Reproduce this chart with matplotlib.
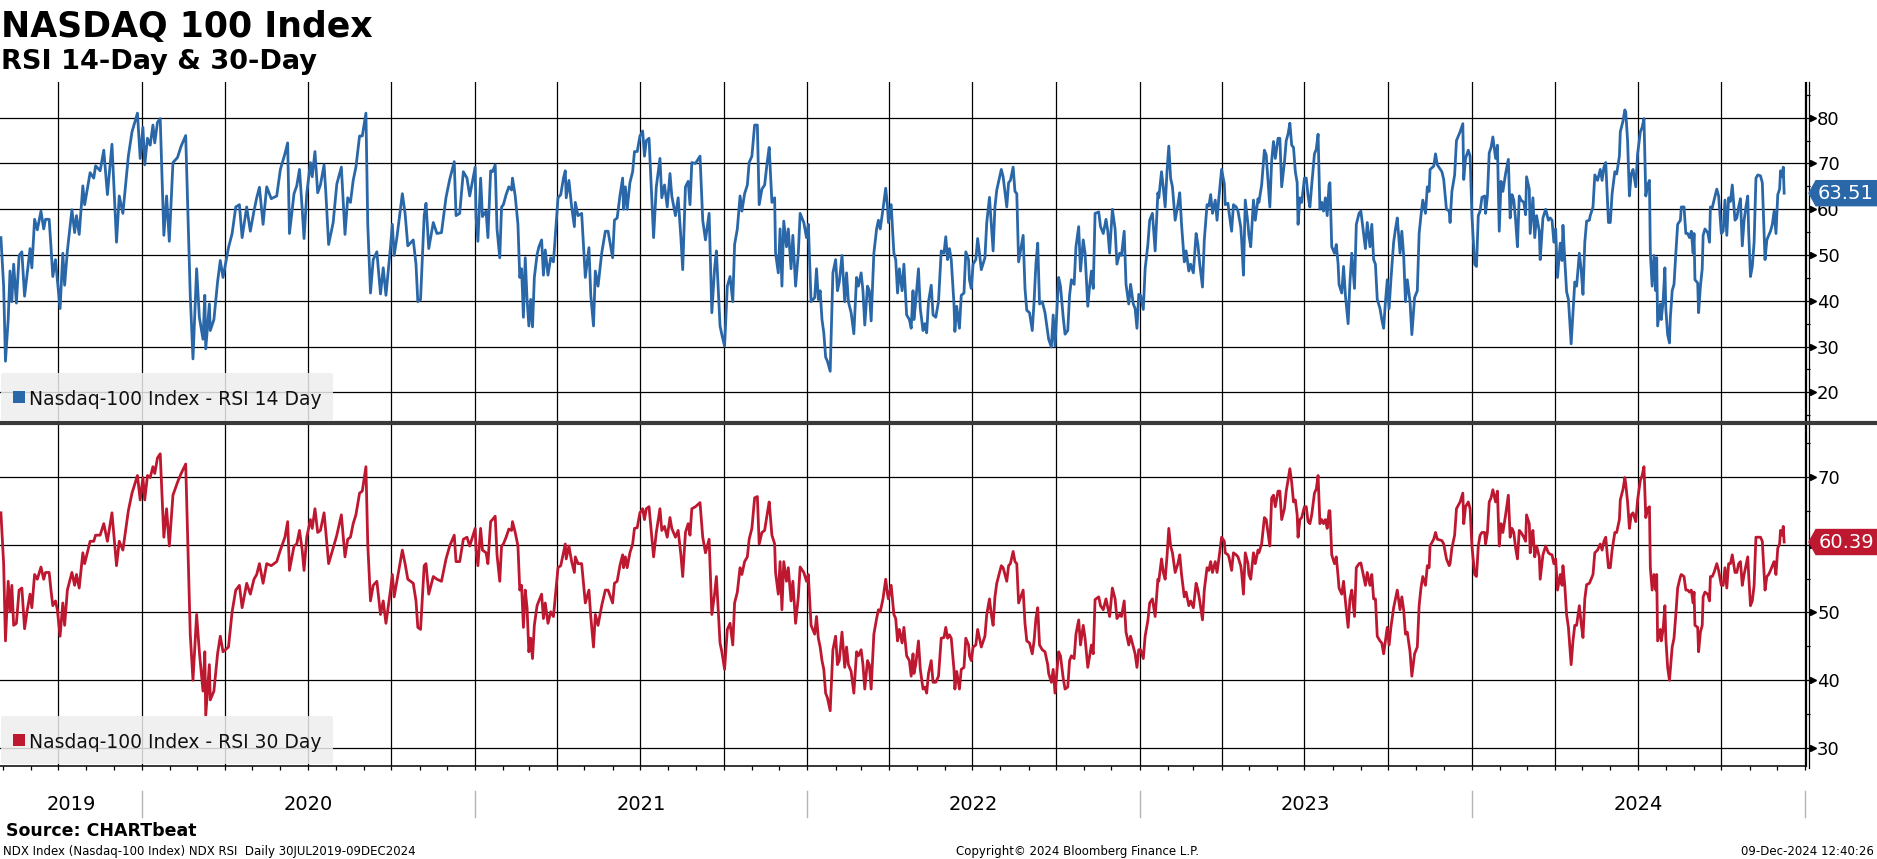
import numpy as np
import pandas as pd
import matplotlib

matplotlib.use("Agg")
import matplotlib.pyplot as plt
import matplotlib.dates as mdates
from matplotlib.lines import Line2D
from matplotlib.patches import FancyBboxPatch, Polygon, Rectangle
from matplotlib.ticker import FixedLocator
from matplotlib.transforms import blended_transform_factory

plt.rcParams["font.family"] = ["DejaVu Sans"]

# readings are calendar days after the first observation (30 Jul 2019)
START = "2019-07-30"
day_offset = [
    0, 3, 5, 8, 10, 12, 14, 17, 20, 23,
    26, 29, 32, 34, 37, 40, 44, 47, 49, 53,
    55, 57, 60, 62, 65, 68, 70, 73, 78, 81,
    83, 86, 90, 92, 98, 102, 104, 109, 113, 117,
    122, 127, 130, 134, 140, 144, 150, 153, 156, 158,
    161, 164, 167, 169, 172, 175, 179, 182, 185, 189,
    194, 198, 203, 208, 211, 215, 218, 222, 224, 225,
    229, 230, 234, 238, 241, 244, 250, 254, 258, 262,
    265, 270, 274, 278, 281, 284, 288, 292, 297, 303,
    307, 312, 315, 317, 322, 325, 328, 331, 333, 336,
    340, 342, 345, 348, 351, 355, 357, 360, 365, 369,
    374, 378, 381, 384, 387, 390, 394, 397, 401, 403,
    406, 409, 413, 417, 420, 423, 428, 430, 432, 435,
    441, 444, 447, 453, 456, 458, 461, 465, 467, 470,
    475, 479, 484, 489, 493, 498, 500, 504, 508, 512,
    515, 521,
    522, 524, 527, 529, 533, 535, 538, 540, 543, 545,
    548, 550, 552, 555, 558, 561, 562, 565, 568, 570,
    572, 574, 576, 578, 580, 582, 584, 586, 589, 591,
    594, 596, 598, 601, 604, 607, 612, 615, 618, 620,
    621, 624, 627, 630, 631, 634, 638, 642, 646, 648,
    651, 653, 656, 660, 664, 667, 672, 674, 677, 680,
    683, 684, 686, 688, 691, 694, 696, 699, 702, 705,
    707, 709, 712, 717, 720, 724, 726, 729, 732, 735,
    737, 741, 744, 747, 749, 752, 755, 757, 759, 763,
    768, 771, 774, 778, 781, 784, 786, 790, 792, 795,
    798, 801, 804, 806, 809, 812, 814, 817, 820, 822,
    825, 828, 831, 833, 836, 839, 842, 844, 847, 850,
    851, 854, 856, 858, 860, 863, 865, 868, 870, 873,
    876, 878, 882, 885, 887, 890, 894, 896, 898, 900,
    902, 904, 906, 908, 911, 914, 917, 919, 921, 924,
    927, 929, 931, 934, 937, 940, 942, 945, 947, 949,
    952, 954, 956, 959, 962, 964, 966, 969, 972, 974,
    975, 978, 981, 983, 985, 987, 990, 992, 995, 998,
    1000, 1002, 1003, 1005, 1008, 1010, 1013, 1015, 1017, 1019,
    1022, 1024, 1027, 1030, 1033,
    1036, 1038, 1040, 1042, 1044, 1047, 1048, 1050, 1053, 1055,
    1058, 1060, 1063, 1064, 1066, 1068, 1071, 1073, 1075, 1077,
    1081, 1083, 1086, 1088, 1090, 1092, 1094, 1099, 1101, 1105,
    1107, 1109, 1112, 1114, 1116, 1118, 1123, 1125, 1127, 1130,
    1133, 1135, 1137, 1139, 1141, 1144, 1147, 1150, 1151, 1154,
    1156, 1158, 1162, 1164, 1167, 1169, 1172, 1174, 1176, 1179,
    1181, 1184, 1186, 1189, 1191, 1194, 1196, 1198, 1200, 1202,
    1206, 1208, 1211, 1214, 1216, 1218, 1221, 1224, 1226, 1229,
    1231, 1234, 1236, 1239, 1241, 1244, 1246, 1248, 1250, 1252,
    1255, 1257, 1260, 1262, 1265, 1268, 1271, 1272, 1275, 1277,
    1279, 1281, 1283, 1285, 1287, 1290, 1293, 1295, 1297, 1300,
    1302, 1305, 1307, 1310, 1313, 1315, 1317, 1320, 1322, 1325,
    1327, 1329, 1331, 1334, 1336, 1338, 1341, 1344, 1345, 1348,
    1349, 1352, 1354, 1357, 1359, 1362, 1363, 1365, 1367, 1370,
    1371, 1373, 1376, 1378, 1381, 1382, 1385, 1388, 1390, 1394,
    1396, 1398, 1400, 1403, 1405, 1407, 1410, 1412, 1414, 1416,
    1418, 1420, 1422, 1424, 1425, 1427, 1429, 1432, 1434, 1436,
    1438, 1440, 1443, 1445, 1447, 1449, 1451, 1453, 1455, 1457,
    1459, 1460, 1462, 1465, 1467, 1469, 1470, 1473, 1475, 1477,
    1480, 1482, 1484, 1487, 1489, 1492, 1494, 1499, 1501, 1504,
    1506, 1508, 1510, 1512, 1515, 1517, 1519, 1521, 1523, 1525,
    1527, 1530, 1532, 1534, 1537, 1539, 1541, 1543, 1545, 1548,
    1550, 1553,
    1556, 1558, 1560, 1562, 1565, 1567, 1569, 1570, 1574, 1576,
    1578, 1583, 1585, 1588, 1591, 1592, 1594, 1597, 1599, 1603,
    1606, 1607, 1609, 1612, 1614, 1616, 1619, 1621, 1623, 1625,
    1627, 1630, 1631, 1633, 1635, 1637, 1639, 1642, 1644, 1646,
    1648, 1650, 1653, 1656, 1658, 1660, 1662, 1664, 1666, 1668,
    1670, 1673, 1675, 1676, 1679, 1680, 1682, 1683, 1685, 1687,
    1690, 1691, 1694, 1697, 1700, 1702, 1704, 1706, 1708, 1710,
    1713, 1715, 1716, 1718, 1720, 1722, 1725, 1727, 1729, 1731,
    1734, 1736, 1738, 1740, 1742, 1745, 1746, 1749, 1751, 1754,
    1757, 1759, 1761, 1763, 1766, 1768, 1770, 1773, 1775, 1778,
    1779, 1782, 1784, 1785, 1787, 1789, 1791, 1793, 1796, 1798,
    1801, 1803, 1805, 1807, 1809, 1811, 1812, 1814, 1816, 1818,
    1819, 1820, 1823, 1824, 1826, 1828, 1829, 1831, 1833, 1834,
    1836, 1838, 1840, 1842, 1845, 1846, 1849, 1851, 1853, 1855,
    1857, 1859, 1860, 1861, 1864, 1865, 1867, 1869, 1870, 1872,
    1875, 1877, 1878, 1880, 1882, 1885, 1887, 1890, 1892, 1894,
    1896, 1898, 1900, 1902, 1905, 1907, 1909, 1911, 1913, 1915,
    1917, 1919, 1920, 1922, 1924, 1926, 1928, 1930, 1933, 1935,
    1938, 1940, 1942, 1944, 1946, 1948, 1950, 1952, 1954, 1955,
    1957, 1958, 1959,
]

rsi_14 = [
    53.8, 43.2, 26.8, 35.9, 46.5, 39.8, 48.0, 39.5, 49.9, 50.7,
    41.0, 46.1, 51.4, 47.2, 57.8, 55.5, 59.6, 55.7, 57.8, 57.8,
    51.8, 45.3, 49.0, 44.6, 38.3, 50.4, 43.4, 50.9, 59.9, 54.9,
    58.6, 54.5, 65.1, 61.0, 68.0, 66.8, 69.5, 68.4, 72.9, 63.2,
    74.2, 52.8, 62.9, 59.1, 71.6, 76.9, 81.0, 71.1, 77.9, 69.7,
    75.5, 74.0, 78.4, 74.5, 79.0, 79.8, 54.3, 62.9, 53.0, 70.2,
    71.3, 73.8, 76.1, 41.2, 27.3, 47.0, 36.4, 31.6, 41.2, 29.5,
    39.3, 33.5, 35.9, 44.1, 48.8, 45.1, 51.6, 54.7, 60.5, 61.0,
    53.8, 60.5, 55.2, 59.6, 62.5, 64.8, 56.7, 64.9, 62.3, 62.9,
    68.7, 72.1, 74.5, 54.7, 63.4, 65.1, 68.7, 60.0, 53.6, 63.4,
    70.2, 67.1, 72.6, 63.6, 65.3, 69.7, 63.4, 52.3, 57.1, 65.5,
    69.2, 54.5, 62.5, 61.5, 66.3, 69.2, 76.0, 76.0, 81.0, 56.7,
    41.7, 49.0, 50.7, 41.5, 47.2, 41.2, 51.8, 56.7, 49.9, 53.8,
    63.4, 59.1, 52.0, 53.3, 48.0, 39.8, 40.3, 58.6, 61.3, 51.4,
    57.1, 54.7, 54.9, 62.6, 66.5, 70.4, 58.6, 59.1, 68.2, 66.8,
    62.9, 69.2,
    58.1, 53.0, 66.8, 58.4, 59.6, 53.8, 68.4, 68.2, 69.7, 55.7,
    49.4, 60.5, 61.0, 63.2, 64.9, 64.2, 66.8, 62.9, 56.7, 45.1,
    47.0, 36.4, 49.4, 40.3, 34.5, 40.3, 34.3, 45.1, 50.1, 51.8,
    53.3, 45.6, 51.1, 45.6, 49.4, 48.5, 62.5, 63.2, 66.8, 68.4,
    62.5, 66.3, 60.5, 56.2, 61.5, 58.6, 59.1, 45.1, 51.6, 41.2,
    34.5, 46.5, 43.2, 50.4, 55.2, 55.2, 49.4, 57.6, 58.1, 62.9,
    66.8, 60.0, 64.9, 60.0, 65.8, 68.2, 72.6, 72.6, 76.0, 77.1,
    71.6, 75.0, 75.5, 53.8, 64.9, 71.1, 62.5, 65.3, 60.5, 67.8,
    62.9, 58.6, 62.5, 53.8, 46.8, 64.9, 66.1, 61.0, 70.2, 70.0,
    71.6, 57.6, 53.3, 59.1, 37.4, 47.0, 50.9, 34.5, 32.6, 30.1,
    43.2, 45.3, 39.8, 52.3, 55.7, 62.9, 59.6, 63.4, 65.3, 70.2,
    71.6, 78.4, 78.4, 61.0, 64.4, 65.3, 70.6, 73.5, 61.5, 62.5,
    50.4, 46.1, 55.7, 43.2, 57.4, 51.8, 55.7, 47.0, 54.3, 43.2,
    50.4, 59.1, 57.1, 53.8, 56.7, 39.8, 40.7, 47.0, 40.3, 42.2,
    35.9, 33.0, 27.7, 26.8, 24.6, 46.1, 49.0, 42.2, 44.1, 49.9,
    39.8, 46.1, 39.8, 37.4, 32.8, 45.1, 43.2, 46.1, 42.2, 34.7,
    43.2, 42.2, 35.6, 50.4, 55.7, 57.6, 55.7, 60.0, 64.6, 60.5,
    57.1, 61.0, 50.4, 49.0, 41.7, 47.0, 42.2, 48.0, 36.9, 35.9,
    34.0, 42.2, 35.9, 39.8, 47.0, 38.3, 33.5, 35.0, 33.0, 39.8,
    43.4, 36.9, 36.4, 39.8, 50.9,
    50.4, 54.0, 49.0, 51.4, 49.0, 39.3, 33.3, 38.8, 34.0, 41.2,
    41.7, 50.7, 49.0, 44.6, 42.7, 48.0, 49.0, 53.6, 50.4, 46.8,
    49.4, 57.1, 62.6, 56.7, 50.9, 60.5, 64.2, 68.7, 67.1, 60.5,
    65.8, 66.3, 69.2, 63.9, 63.4, 48.5, 54.3, 42.7, 37.9, 37.4,
    33.5, 39.8, 48.0, 52.6, 39.3, 39.8, 37.4, 33.0, 31.6, 29.9,
    36.9, 30.1, 45.1, 43.2, 36.4, 32.7, 33.5, 41.2, 44.6, 43.6,
    51.8, 56.2, 46.5, 53.3, 50.4, 38.8, 43.2, 46.5, 42.7, 59.1,
    59.4, 56.2, 54.7, 57.8, 55.2, 50.4, 60.0, 55.7, 48.0, 50.4,
    49.9, 55.2, 43.6, 39.3, 43.6, 39.3, 38.3, 34.0, 41.4, 41.2,
    38.1, 47.0, 52.3, 57.6, 59.1, 50.9, 63.6, 62.5, 68.2, 64.6,
    60.5, 68.2, 73.8, 66.8, 64.9, 57.6, 61.0, 63.6, 56.7, 48.5,
    50.9, 46.5, 48.0, 46.1, 54.7, 52.3, 48.0, 43.0, 53.3, 61.0,
    60.7, 63.2, 59.1, 62.0, 57.6, 62.5, 68.7, 65.5, 61.0, 61.3,
    59.6, 55.2, 61.0, 60.5, 59.6, 56.2, 53.3, 45.6, 62.0, 56.7,
    54.3, 51.8, 62.0, 57.6, 62.3, 61.5, 65.3, 72.9, 71.9, 60.5,
    70.6, 74.8, 71.1, 75.5, 75.5, 64.9, 70.2, 75.0, 76.4, 78.8,
    74.0, 73.5, 68.2, 65.8, 56.7, 62.5, 61.5, 66.8, 66.8, 62.9,
    60.5, 65.3, 72.1, 73.1, 76.4, 60.0, 61.5, 59.6, 62.5, 58.6,
    65.3, 65.8, 51.8, 50.4, 52.3, 48.0, 43.6, 41.7, 47.5, 41.2,
    35.0, 44.1, 50.4, 42.7, 56.7, 59.1, 59.6, 51.4, 57.1, 51.8,
    56.7, 49.0, 48.0, 40.3, 38.3, 35.9, 34.0, 39.8, 44.6, 38.3,
    44.6, 52.8, 55.7, 58.1, 50.4, 55.2, 49.9, 39.8, 44.6, 39.8,
    32.6, 40.7,
    42.2, 54.7, 58.6, 62.0, 59.1, 64.9, 63.9, 68.7, 69.4, 72.1,
    69.7, 68.2, 66.5, 60.0, 59.6, 57.1, 63.9, 67.5, 75.0, 76.9,
    78.7, 66.5, 71.1, 72.9, 71.6, 58.6, 48.0, 47.5, 58.6, 59.6,
    62.6, 62.9, 59.1, 62.9, 72.3, 73.5, 75.8, 71.1, 74.0, 55.2,
    66.1, 63.9, 67.8, 70.9, 58.1, 63.2, 62.0, 57.6, 51.8, 62.9,
    62.0, 61.5, 58.8, 67.1, 64.4, 54.7, 60.0, 62.5, 53.8, 58.6,
    55.2, 49.0, 58.1, 60.0, 57.6, 58.1, 57.6, 52.8, 55.7, 45.1,
    52.6, 48.8, 56.5, 49.0, 42.0, 40.3, 30.6, 37.4, 44.1, 43.2,
    50.4, 46.8, 41.4, 52.8, 57.4, 57.6, 58.6, 60.5, 67.5, 66.3,
    68.7, 66.3, 69.2, 70.2, 57.1, 57.1, 63.4, 68.2, 67.7, 71.6,
    76.9, 79.3, 81.7, 81.2, 75.0, 62.9, 67.7, 68.7, 64.9, 72.1,
    76.9, 77.9, 79.8, 62.9, 65.3, 66.3, 50.4, 43.2, 49.9, 42.2,
    49.4, 34.5, 39.3, 35.9, 39.8, 47.2, 38.3, 32.6, 30.8, 36.4,
    42.2, 43.6, 50.4, 56.7, 57.6, 60.5, 60.5, 54.7, 54.7, 53.8,
    55.2, 50.4, 54.7, 44.6, 43.9, 37.4, 43.2, 47.0, 54.3, 55.7,
    54.9, 52.8, 60.5, 60.3, 62.0, 64.4, 62.9, 54.7, 55.2, 62.0,
    54.3, 62.5, 61.7, 65.3, 57.6, 58.1, 60.5, 62.3, 52.0, 57.6,
    60.5, 62.9, 55.2, 45.3, 47.5, 52.8, 66.8, 67.5, 67.3, 65.8,
    49.0, 53.3, 54.3, 55.2, 56.7, 59.6, 54.7, 63.2, 64.4, 68.4,
    67.1, 69.2, 63.51,
]

rsi_30 = [
    64.7, 57.2, 45.8, 54.6, 50.1, 54.0, 48.1, 48.4, 53.3, 53.6,
    47.6, 50.4, 52.7, 50.7, 55.6, 54.9, 56.7, 54.9, 55.9, 55.9,
    53.3, 51.0, 51.7, 50.4, 46.5, 51.4, 48.1, 53.3, 55.9, 54.0,
    55.6, 53.6, 58.8, 57.2, 60.5, 60.5, 61.4, 61.4, 63.1, 60.5,
    64.7, 56.9, 60.5, 59.2, 65.0, 67.6, 70.2, 66.6, 69.9, 66.6,
    70.2, 69.9, 71.5, 70.5, 72.8, 73.4, 61.1, 65.3, 59.8, 67.3,
    69.2, 70.5, 71.9, 46.8, 40.0, 49.7, 44.2, 38.4, 44.2, 34.8,
    42.3, 37.1, 38.4, 43.9, 46.5, 44.2, 44.9, 50.1, 53.3, 54.0,
    50.7, 54.3, 52.7, 54.9, 55.6, 57.2, 54.3, 57.2, 56.9, 57.5,
    59.2, 61.1, 63.4, 56.2, 59.8, 60.1, 62.1, 59.2, 56.2, 61.1,
    63.7, 62.4, 65.3, 61.8, 62.1, 64.7, 61.8, 57.2, 59.5, 61.4,
    64.4, 58.2, 60.8, 61.1, 63.1, 64.4, 67.6, 67.9, 71.5, 60.1,
    51.7, 54.0, 54.6, 49.7, 51.7, 48.4, 53.3, 55.6, 52.3, 54.6,
    59.2, 57.2, 54.9, 54.3, 51.7, 47.8, 47.5, 56.9, 57.2, 52.7,
    55.3, 54.9, 54.6, 57.9, 59.8, 61.4, 57.5, 57.5, 60.8, 61.1,
    59.8, 62.4,
    59.2, 56.9, 62.4, 59.2, 58.8, 57.2, 63.4, 63.7, 64.2, 58.5,
    54.6, 59.8, 60.1, 61.1, 62.3, 62.1, 63.4, 61.8, 59.8, 53.3,
    54.0, 47.8, 53.3, 50.7, 44.2, 46.2, 43.2, 48.1, 51.0, 51.7,
    52.7, 49.1, 51.4, 48.4, 50.1, 49.4, 56.6, 56.9, 58.8, 60.1,
    57.9, 59.8, 57.5, 55.9, 58.2, 57.2, 57.2, 51.4, 53.3, 49.4,
    44.9, 49.7, 48.1, 51.0, 53.3, 53.3, 51.4, 54.3, 54.6, 56.9,
    58.5, 56.6, 58.2, 56.6, 58.8, 60.1, 62.4, 62.5, 64.7, 65.3,
    63.7, 65.3, 65.6, 58.2, 61.8, 65.3, 62.1, 62.7, 61.1, 64.0,
    62.4, 61.1, 62.1, 58.5, 55.3, 61.8, 63.1, 61.4, 65.3, 65.6,
    66.2, 61.1, 58.8, 60.8, 49.7, 52.7, 55.3, 45.5, 44.2, 41.6,
    47.5, 48.4, 45.2, 51.4, 53.0, 56.6, 55.6, 57.5, 58.2, 60.8,
    62.4, 66.9, 67.1, 60.1, 61.8, 62.1, 64.7, 66.3, 61.4, 60.1,
    55.9, 52.7, 57.5, 50.4, 57.5, 54.6, 56.6, 51.7, 54.6, 48.4,
    52.3, 56.7, 55.9, 54.6, 55.6, 48.1, 46.8, 49.4, 46.2, 44.9,
    42.9, 41.6, 38.1, 37.4, 35.5, 44.5, 46.5, 42.3, 42.9, 47.1,
    41.9, 44.9, 42.3, 41.3, 38.1, 44.2, 43.6, 44.5, 42.3, 38.7,
    42.9, 42.3, 38.7, 46.8, 49.1, 50.4, 50.1, 52.0, 54.9, 52.7,
    52.0, 54.0, 49.7, 49.1, 45.8, 47.5, 45.5, 47.8, 43.6, 42.9,
    40.6, 43.9, 41.0, 42.3, 45.8, 41.6, 38.7, 39.0, 38.1, 41.0,
    42.9, 39.7, 39.7, 40.6, 46.2,
    46.3, 47.8, 46.2, 46.7, 46.2, 41.6, 38.7, 41.3, 38.7, 41.6,
    41.9, 46.2, 45.2, 43.6, 42.9, 44.9, 45.2, 47.5, 46.2, 44.9,
    46.5, 49.7, 52.0, 49.7, 48.1, 52.3, 54.3, 56.9, 56.6, 54.6,
    56.9, 57.2, 59.0, 57.5, 57.2, 51.4, 53.3, 48.4, 45.8, 45.5,
    43.9, 45.8, 49.1, 50.7, 45.2, 44.5, 44.2, 42.3, 41.0, 39.7,
    41.6, 38.1, 44.2, 43.6, 40.3, 38.7, 39.0, 42.9, 43.6, 43.2,
    46.8, 48.9, 45.2, 48.1, 46.2, 41.9, 43.6, 45.2, 43.9, 51.9,
    52.3, 51.0, 50.4, 52.0, 50.7, 49.4, 53.6, 52.0, 49.1, 49.7,
    49.4, 51.7, 47.1, 45.2, 46.5, 44.9, 43.9, 41.9, 44.5, 44.5,
    43.2, 46.5, 48.8, 51.4, 52.0, 49.4, 54.9, 54.6, 57.9, 55.9,
    54.9, 58.2, 62.4, 59.8, 58.8, 55.9, 57.2, 58.5, 55.6, 52.3,
    53.0, 51.0, 51.7, 50.7, 54.3, 53.3, 51.7, 48.9, 53.3, 56.6,
    56.2, 57.5, 55.9, 57.5, 55.9, 57.9, 61.1, 60.5, 58.8, 58.5,
    58.2, 56.2, 58.8, 58.5, 58.2, 56.9, 55.9, 52.7, 58.8, 57.2,
    55.6, 54.9, 58.8, 57.2, 59.2, 58.8, 60.1, 64.0, 63.7, 59.8,
    66.9, 67.3, 65.6, 67.9, 67.9, 63.7, 65.3, 67.9, 69.5, 71.2,
    69.2, 66.3, 66.6, 64.4, 61.1, 63.7, 64.0, 65.6, 65.6, 63.4,
    63.1, 64.4, 67.6, 68.2, 70.2, 63.1, 63.7, 63.1, 63.7, 62.4,
    65.0, 65.0, 58.5, 57.2, 58.2, 55.3, 53.6, 52.7, 54.6, 51.7,
    47.8, 52.0, 53.3, 49.4, 56.6, 57.2, 57.3, 54.0, 55.9, 54.0,
    55.6, 52.0, 52.0, 46.5, 45.8, 45.5, 43.9, 45.8, 47.8, 45.2,
    47.8, 50.7, 52.0, 53.3, 50.4, 52.3, 50.4, 46.8, 47.1, 44.2,
    40.6, 43.9,
    44.9, 51.0, 53.6, 55.3, 54.0, 56.9, 56.6, 59.8, 60.8, 61.8,
    60.8, 60.6, 60.1, 57.9, 56.9, 57.2, 59.5, 61.4, 65.3, 66.3,
    67.6, 63.1, 65.6, 66.3, 65.3, 59.8, 55.6, 55.3, 59.8, 61.4,
    61.8, 61.8, 60.1, 61.8, 66.3, 66.9, 68.1, 66.3, 67.9, 59.8,
    63.1, 61.8, 64.4, 67.3, 61.1, 62.4, 61.8, 59.5, 57.9, 62.1,
    61.8, 61.1, 60.5, 64.4, 63.1, 58.8, 61.4, 62.1, 58.2, 59.8,
    58.2, 54.9, 58.5, 59.8, 58.8, 58.6, 58.5, 57.2, 57.9, 53.3,
    55.6, 54.0, 56.9, 54.0, 49.7, 47.8, 42.3, 45.8, 48.1, 48.1,
    51.0, 48.4, 46.3, 52.0, 54.1, 54.3, 54.6, 55.6, 58.8, 59.2,
    60.1, 59.2, 60.5, 61.1, 56.6, 56.6, 59.2, 61.8, 61.8, 63.7,
    66.6, 68.2, 69.9, 68.9, 66.3, 62.4, 64.4, 64.7, 63.4, 66.6,
    69.5, 70.2, 71.5, 64.0, 65.3, 65.6, 56.6, 53.3, 55.6, 53.3,
    55.6, 45.8, 47.5, 45.8, 47.5, 51.0, 46.2, 41.9, 40.0, 41.6,
    44.9, 46.2, 49.7, 53.6, 55.3, 55.6, 55.3, 53.3, 53.3, 53.0,
    53.3, 51.4, 53.0, 48.1, 47.8, 44.2, 47.1, 48.1, 52.3, 53.0,
    52.7, 51.7, 55.3, 55.3, 55.9, 57.2, 56.2, 54.0, 54.0, 56.6,
    53.6, 57.2, 57.2, 58.5, 55.9, 55.9, 57.2, 57.5, 54.0, 55.6,
    56.9, 58.2, 55.6, 51.0, 51.7, 54.0, 61.1, 61.1, 61.1, 60.5,
    53.3, 55.3, 55.6, 56.2, 56.9, 57.5, 55.6, 59.5, 60.1, 62.1,
    61.4, 62.7, 60.39,
]

years = [2019, 2020, 2021, 2022, 2023, 2024]
rsi14_ticks = [20, 30, 40, 50, 60, 70, 80]
rsi30_ticks = [30, 40, 50, 60, 70]

BLUE = "#2a67a8"
RED = "#be1730"
W, H = 1877, 859


def fx(px):
    return px / W


def fy(py):
    return 1 - py / H


dates = pd.Timestamp(START) + pd.to_timedelta(day_offset, unit="D")
x_start, x_end = pd.Timestamp("2019-07-29"), pd.Timestamp("2025-01-02")

fig = plt.figure(figsize=(W / 100, H / 100), dpi=100)
ax14 = fig.add_axes([0, fy(423), fx(1806), (423 - 82) / H])
ax30 = fig.add_axes([0, fy(766), fx(1806), (766 - 424) / H])

panels = [
    (ax14, rsi_14, BLUE, (13.3, 87.8), rsi14_ticks, "Nasdaq-100 Index - RSI 14 Day", 421),
    (ax30, rsi_30, RED, (27.35, 77.8), rsi30_ticks, "Nasdaq-100 Index - RSI 30 Day", 764),
]

for ax, values, colour, ylim, ticks, label, box_bottom in panels:
    ax.plot(dates, values, color=colour, lw=2.0, solid_joinstyle="round", zorder=3)
    ax.set_xlim(x_start, x_end)
    ax.set_ylim(*ylim)
    ax.xaxis.set_major_locator(mdates.MonthLocator(bymonth=(1, 4, 7, 10)))
    ax.xaxis.set_minor_locator(mdates.MonthLocator())
    ax.yaxis.set_major_locator(FixedLocator(ticks))
    minor = [v for v in np.arange(15, 90, 10) if ylim[0] < v < ylim[1]]
    ax.yaxis.set_minor_locator(FixedLocator(minor))
    ax.grid(which="major", color="black", lw=0.9)
    ax.yaxis.tick_right()
    ax.tick_params(axis="y", which="major", length=4, width=0.9, pad=4, labelsize=13)
    ax.tick_params(axis="y", which="minor", length=3, width=0.9)
    for side in ("top", "left"):
        ax.spines[side].set_visible(False)
    ax.spines["right"].set_linewidth(0.9)

    # small arrow heads on the major ticks
    tri = blended_transform_factory(ax.transAxes, ax.transData)
    ax.plot(np.full(len(ticks), 1 + 7 / 1806), ticks, ls="none", marker=">",
            ms=4, color="black", transform=tri, clip_on=False)

    # legend box
    fig.add_artist(FancyBboxPatch((fx(1), fy(box_bottom)), fx(332), 48 / H,
                                  boxstyle="round,pad=0,rounding_size=0.002",
                                  transform=fig.transFigure, fc="#eeeeee",
                                  ec="none", alpha=0.85, zorder=4))
    fig.add_artist(Rectangle((fx(13), fy(box_bottom - 18)), fx(12), 12 / H,
                             transform=fig.transFigure, fc=colour, ec="none", zorder=5))
    fig.text(fx(29), fy(box_bottom - 16), label, fontsize=13.5, color="#111111",
             va="baseline", zorder=6)

    # last value tag
    last = values[-1]
    yc = fig.transFigure.inverted().transform(
        ax.transData.transform((mdates.date2num(dates[-1]), last)))[1]
    half = 12.5 / H
    tag = Polygon([(fx(1809), yc), (fx(1816), yc + half), (1, yc + half),
                   (1, yc - half), (fx(1816), yc - half)], closed=True,
                  transform=fig.transFigure, fc=colour, ec=colour, zorder=5)
    fig.add_artist(tag)
    fig.text(fx(1846), yc, f"{last:.2f}", color="white", fontsize=14,
             ha="center", va="center", zorder=6)

ax14.spines["bottom"].set_visible(False)
ax14.tick_params(axis="x", which="both", length=0, labelbottom=False)
ax30.spines["bottom"].set_linewidth(1.1)
ax30.tick_params(axis="x", which="both", length=3, width=0.9, labelbottom=False)

# second right-hand rule and the heavy divider between panels
fig.add_artist(Line2D([fx(1809), fx(1809)], [fy(82), fy(768)], color="black", lw=0.9))
fig.add_artist(Line2D([0, 1], [fy(423), fy(423)], color="#3a3a3a", lw=3))

# year band under the lower panel
band = blended_transform_factory(ax30.transData, fig.transFigure)
for yr in years + [years[-1] + 1]:
    edge = pd.Timestamp(f"{yr + 1 if yr == years[-1] + 1 else yr}-01-01")
    if yr == years[-1] + 1:
        edge = pd.Timestamp(f"{yr}-01-01")
    if yr > years[0]:
        ax30.plot([edge, edge], [fy(791), fy(817)], color="#b5b5b5", lw=1,
                  transform=band, clip_on=False)
for yr in years:
    lo = max(pd.Timestamp(f"{yr}-01-01"), x_start)
    hi = min(pd.Timestamp(f"{yr + 1}-01-01"), x_end)
    ax30.text(lo + (hi - lo) / 2, fy(805), str(yr), transform=band, fontsize=14,
              ha="center", va="center")

fig.text(fx(1), fy(37), "NASDAQ 100 Index", fontsize=25, fontweight="bold", va="baseline")
fig.text(fx(1), fy(69), "RSI 14-Day & 30-Day", fontsize=19.5, fontweight="bold", va="baseline")
fig.text(fx(6), fy(836), "Source: CHARTbeat", fontsize=12.5, fontweight="bold", va="baseline")
fig.text(fx(3), fy(855), "NDX Index (Nasdaq-100 Index) NDX RSI  Daily 30JUL2019-09DEC2024",
         fontsize=8.5, va="baseline")
fig.text(fx(1078), fy(855), "Copyright\u00a9 2024 Bloomberg Finance L.P.", fontsize=8.5,
         ha="center", va="baseline")
fig.text(fx(1874), fy(855), "09-Dec-2024 12:40:26", fontsize=8.5, ha="right", va="baseline")

fig.savefig("out.png", dpi=100)
